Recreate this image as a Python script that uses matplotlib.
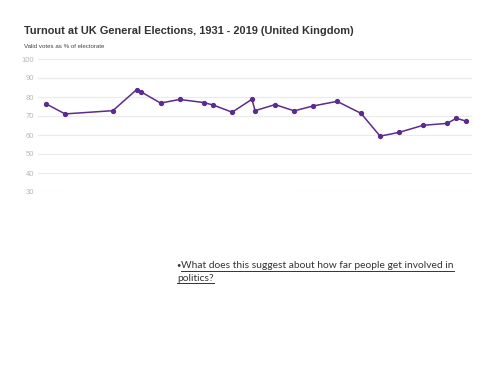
import matplotlib
matplotlib.use("Agg")
import matplotlib.pyplot as plt
from matplotlib.lines import Line2D

years = [1931, 1935, 1945, 1950, 1951, 1955, 1959, 1964, 1966, 1970, 1974.15, 1974.8,
         1979, 1983, 1987, 1992, 1997, 2001, 2005, 2010, 2015, 2017, 2019]
turnout = [76.4, 71.1, 72.8, 83.9, 82.6, 76.8, 78.7, 77.1, 75.8, 72.0, 78.8, 72.8,
           76.0, 72.7, 75.3, 77.7, 71.4, 59.4, 61.4, 65.1, 66.1, 68.8, 67.3]
yticks = [30, 40, 50, 60, 70, 80, 90, 100]

title = "Turnout at UK General Elections, 1931 - 2019 (United Kingdom)"
subtitle = "Valid votes as % of electorate"
line1 = "What does this suggest about how far people get involved in"
line2 = "politics?"

fig = plt.figure(figsize=(5, 3.75), dpi=100)
ax = fig.add_axes([38/500, 1-192/375, 434/500, 133/375])
ax.set_xlim(1931 - 8/4.7727, 2019 + 6/4.7727)
ax.set_ylim(30, 100)
for s in ax.spines.values():
    s.set_visible(False)
ax.set_xticks([])
ax.set_yticks(yticks)
ax.tick_params(axis='y', length=0, pad=3, labelsize=5.5, labelcolor='#b8b8b8')
for t in ax.get_yticklabels():
    t.set_fontfamily('Liberation Sans')
for v in yticks:
    if v == 30:
        ax.axhline(v, xmin=0, xmax=24/434, color='#ebebeb', lw=0.8, zorder=0)
        ax.axhline(v, xmin=258/434, xmax=1, color='#ebebeb', lw=0.8, zorder=0)
    else:
        ax.axhline(v, color='#ebebeb', lw=0.8, zorder=0)
ax.plot(years, turnout, color='#5c2b8e', lw=1.1, marker='o', ms=2.8, zorder=3)

fig.text(24/500, 1-34.3/375, title, fontsize=7.95, fontweight='bold', color='#333333',
         family='Liberation Sans', va='baseline', ha='left')
fig.text(24/500, 1-47.5/375, subtitle, fontsize=4.4, color='#444444',
         family='Liberation Sans', va='baseline', ha='left')

fs = 7.4
fig.text(176.5/500, 1-264.5/375, "\u2022", fontsize=5.5, color='#333333', family='Lato', va='center', ha='left')
t1 = fig.text(181/500, 1-268.5/375, line1, fontsize=fs, color='#333333', family='Lato', va='baseline', ha='left')
t2 = fig.text(177/500, 1-281.3/375, line2, fontsize=fs, color='#333333', family='Lato', va='baseline', ha='left')
fig.canvas.draw()
r = fig.canvas.get_renderer()
for t, yb in ((t1, 270.5), (t2, 283.3)):
    bb = t.get_window_extent(r)
    x0, x1 = bb.x0/500, bb.x1/500
    fig.add_artist(Line2D([x0, x1], [1-yb/375, 1-yb/375], color='#333333', lw=0.7, transform=fig.transFigure))

fig.savefig("out.png", dpi=100)
